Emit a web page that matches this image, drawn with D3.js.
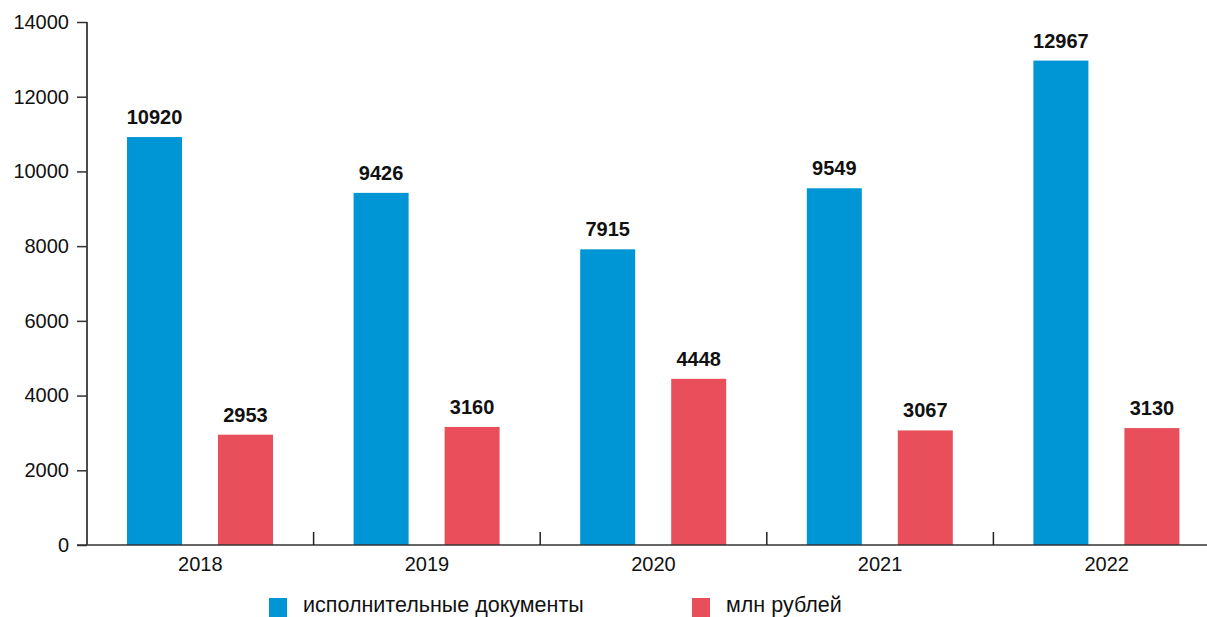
<!DOCTYPE html>
<html><head><meta charset="utf-8">
<script src="https://cdn.jsdelivr.net/npm/d3@7"></script>
<style>body{margin:0;background:#fff}svg{display:block;font-family:"Liberation Sans",Arial,sans-serif}</style>
</head><body>
<svg id="c" width="1207" height="617"></svg>
<script>
const categories = ["2018","2019","2020","2021","2022"];
const seriesNames = ["исполнительные документы","млн рублей"];
const docs = [10920, 9426, 7915, 9549, 12967];
const rubles = [2953, 3160, 4448, 3067, 3130];
const yTicks = [0,2000,4000,6000,8000,10000,12000,14000];
const colors = ["#0095d5","#e94f5b"];

(function(){
const svg = d3.select("#c");
const mLeft = 87, mTop = 22, mBottom = 545, bandW = 226.6;
const x = d3.scaleBand().domain(categories).range([mLeft, mLeft + bandW*categories.length]).padding(0);
const y = d3.scaleLinear().domain([0,14000]).range([mBottom, mTop]);
const barW = 55, off = 40, gap = 36;
const series = [docs, rubles];

series.forEach((vals, si) => {
  const g = svg.append("g");
  g.selectAll("rect").data(vals).join("rect")
    .attr("x", (d,i) => x(categories[i]) + off + si*(barW+gap))
    .attr("y", d => y(d))
    .attr("width", barW)
    .attr("height", d => mBottom - y(d))
    .attr("fill", colors[si]);
  g.selectAll("text").data(vals).join("text")
    .attr("x", (d,i) => x(categories[i]) + off + si*(barW+gap) + barW/2)
    .attr("y", d => y(d) - 13)
    .attr("text-anchor","middle")
    .attr("font-weight","bold")
    .attr("font-size","20px")
    .attr("fill","#111")
    .text(d => d);
});

const yAxis = d3.axisLeft(y).tickValues(yTicks).tickSize(10).tickPadding(8).tickFormat(d3.format("d"));
const ya = svg.append("g").attr("transform",`translate(${mLeft},0)`).call(yAxis);
ya.select(".domain").attr("stroke","#111").attr("stroke-width",1.5).attr("d",`M0,${mTop}V${mBottom}`);
ya.selectAll(".tick line").attr("stroke","#333").attr("stroke-width",1.5);
ya.selectAll(".tick text").attr("font-size","20px").attr("fill","#111").attr("font-family","Liberation Sans, Arial, sans-serif");

const xAxis = d3.axisBottom(x).tickSize(0).tickPadding(12);
const xa = svg.append("g").attr("transform",`translate(0,${mBottom})`).call(xAxis);
xa.select(".domain").attr("stroke","#333").attr("stroke-width",1.5).attr("d",`M${mLeft-10},0H1207`);
xa.selectAll(".tick text").attr("font-size","20px").attr("fill","#111").attr("font-family","Liberation Sans, Arial, sans-serif");
svg.append("g").selectAll("line").data(categories.slice(1)).join("line")
  .attr("x1", d => x(d)).attr("x2", d => x(d))
  .attr("y1", mBottom - 13).attr("y2", mBottom)
  .attr("stroke","#222").attr("stroke-width",1.5);

const legX = [269, 692];
const lg = svg.append("g");
seriesNames.forEach((n,i) => {
  lg.append("rect").attr("x", legX[i]).attr("y", 598).attr("width", 18).attr("height", 19).attr("fill", colors[i]);
  lg.append("text").attr("x", legX[i] + 34).attr("y", 612).attr("font-size","21.5px").attr("fill","#111").text(n);
});
})();
</script>
</body></html>
